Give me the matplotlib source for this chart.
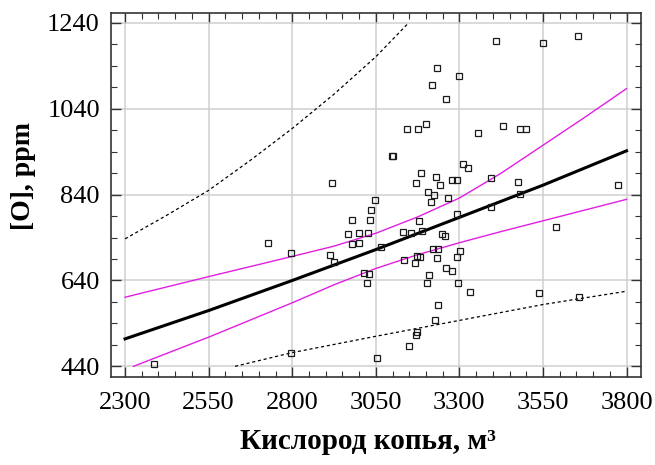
import matplotlib.pyplot as plt
from matplotlib.ticker import FixedLocator
import numpy as np

plt.rcParams['font.family'] = ['Liberation Serif', 'DejaVu Serif']

# lance oxygen (m3) vs oxygen in metal (ppm)
oxygen = [2387, 2727, 2797, 2797, 2920, 2913, 2926, 3049, 3035, 2979, 3032, 2968,
          3000, 3027, 2979, 2999, 3065, 3014, 3031, 3025, 3054, 3097, 3100, 3185,
          3170, 3231, 3242, 3311, 3325, 3278, 3292, 3395, 3206, 3223, 3215, 3266,
          3180, 3292, 3395, 3130, 3156, 3188, 3247, 3256, 3222, 3235, 3301, 3135,
          3167, 3173, 3182, 3232, 3293, 3210, 3202, 3261, 3277, 3296, 3333, 3236,
          3226, 3173, 3170, 3149, 3411, 3234, 3298, 3218, 3261, 3144, 3176, 3200,
          3357, 3550, 3655, 3430, 3481, 3499, 3475, 3482, 3775, 3588, 3539, 3657]
o_ppm = [446, 727, 705, 472, 868, 699, 684, 827, 804, 781, 781, 748,
         750, 750, 724, 727, 718, 658, 656, 635, 459, 931, 929, 891,
         866, 881, 863, 911, 901, 873, 873, 878, 845, 840, 823, 832,
         779, 795, 811, 753, 750, 756, 748, 743, 713, 713, 709, 687,
         681, 697, 694, 692, 694, 653, 635, 669, 663, 635, 614, 584,
         548, 521, 512, 487, 1198, 1135, 1117, 1096, 1063, 994, 992, 1004,
         984, 1194, 1209, 999, 994, 992, 869, 842, 863, 764, 612, 602]

# fitted model and limits
fit_x = [2300, 2550, 2800, 3050, 3300, 3550, 3800]
fit_y = [504, 570, 640, 712, 787, 862, 942]
conf_hi_x = [2300, 2550, 2800, 2925, 3050, 3175, 3300, 3425, 3550, 3675, 3800]
conf_hi_y = [601, 649, 696, 720, 750, 788, 832, 890, 955, 1020, 1087]
conf_lo_x = [2325, 2550, 2800, 2925, 3050, 3175, 3300, 3425, 3550, 3675, 3800]
conf_lo_y = [440, 508, 588, 630, 668, 700, 728, 754, 779, 804, 829]
pred_hi_x = [2300, 2425, 2550, 2675, 2800, 2925, 3050, 3148]
pred_hi_y = [737, 792, 850, 920, 994, 1074, 1161, 1240]
pred_lo_x = [2629, 2800, 3050, 3300, 3550, 3800]
pred_lo_y = [440, 472, 510, 547, 584, 615]

x_ticks = [2300, 2550, 2800, 3050, 3300, 3550, 3800]
y_ticks = [440, 640, 840, 1040, 1240]

fig = plt.figure(figsize=(6.55, 4.65), dpi=100)
ax = fig.add_axes([0.1695, 0.19, 0.809, 0.782])

ax.plot(pred_hi_x, pred_hi_y, color='black', lw=0.9, dashes=(2.5, 2.2))
ax.plot(pred_lo_x, pred_lo_y, color='black', lw=0.9, dashes=(2.5, 2.2))
ax.plot(conf_hi_x, conf_hi_y, color='#e21ee2', lw=1.0)
ax.plot(conf_lo_x, conf_lo_y, color='#e21ee2', lw=1.0)
ax.plot(fit_x, fit_y, color='black', lw=2.2)
ax.plot(oxygen, o_ppm, ls='none', marker='s', ms=5, mfc='none',
        mec='#1a1a1a', mew=0.9)

ax.set_xlim(2258, 3843)
ax.set_ylim(416, 1263)

ax.xaxis.set_major_locator(FixedLocator(x_ticks))
ax.yaxis.set_major_locator(FixedLocator(y_ticks))
ax.xaxis.set_minor_locator(FixedLocator(np.arange(2300, 3801, 50)))
ax.yaxis.set_minor_locator(FixedLocator(np.arange(440, 1241, 50)))
ax.tick_params(which='both', direction='in', top=True, right=True,
               color='#333333', labelsize=19)
ax.tick_params(which='major', length=7, width=1.0)
ax.tick_params(which='minor', length=4, width=0.8)
ax.tick_params(axis='y', pad=8)
ax.tick_params(axis='x', pad=11)
ax.grid(True, which='major', color='#cfcfcf', lw=1.1)
ax.set_axisbelow(True)
for sp in ax.spines.values():
    sp.set_color('#333333')
    sp.set_linewidth(1.2)

fig.text(0.036, 1 - 176 / 465, '[O], ppm', rotation=90, ha='center',
         va='center', fontsize=20, fontweight='bold')
fig.text(368 / 655, 1 - 441 / 465, 'Кислород копья, м³',
         ha='center', va='center', fontsize=21, fontweight='bold')

fig.savefig('out.png', dpi=100)
